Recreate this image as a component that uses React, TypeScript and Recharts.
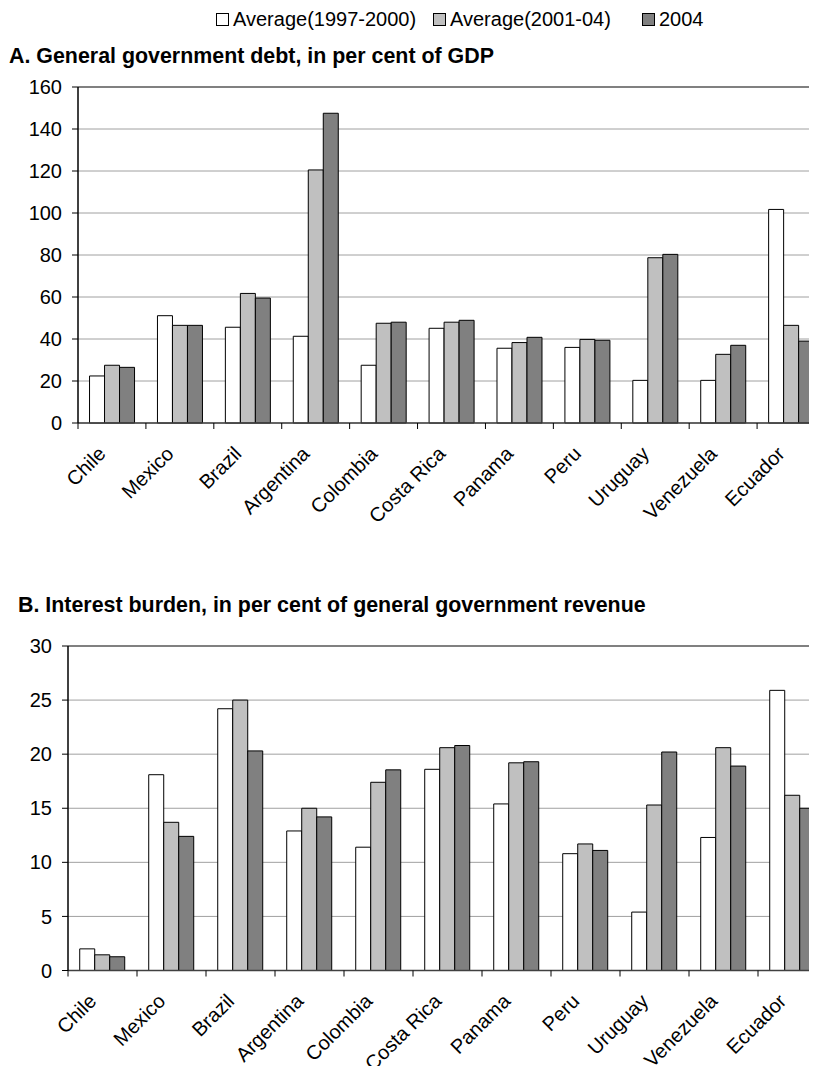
import React from "react";
import {
    BarChart,
    Bar,
    XAxis,
    YAxis,
    CartesianGrid,
    ReferenceLine,
} from "recharts";

const countries = [
    "Chile",
    "Mexico",
    "Brazil",
    "Argentina",
    "Colombia",
    "Costa Rica",
    "Panama",
    "Peru",
    "Uruguay",
    "Venezuela",
    "Ecuador",
];

const seriesNames = ["Average(1997-2000)", "Average(2001-04)", "2004"];
const seriesColors = ["#ffffff", "#c0c0c0", "#808080"];

// A. general government debt, % of GDP
const debtAvg9700 = [22.4, 51.1, 45.6, 41.3, 27.5, 45.1, 35.6, 36.0, 20.3, 20.3, 101.7];
const debtAvg0104 = [27.5, 46.5, 61.7, 120.5, 47.5, 48.0, 38.3, 39.8, 78.7, 32.7, 46.5];
const debt2004 = [26.5, 46.5, 59.5, 147.5, 48.0, 48.9, 40.8, 39.4, 80.3, 37.0, 39.0];
const debtTicks = [0, 20, 40, 60, 80, 100, 120, 140, 160];

// B. interest burden, % of general government revenue
const intAvg9700 = [2.0, 18.1, 24.2, 12.9, 11.4, 18.6, 15.4, 10.8, 5.4, 12.3, 25.9];
const intAvg0104 = [1.45, 13.7, 25.0, 15.0, 17.4, 20.6, 19.2, 11.7, 15.3, 20.6, 16.2];
const int2004 = [1.27, 12.4, 20.3, 14.2, 18.55, 20.8, 19.3, 11.1, 20.2, 18.9, 15.0];
const interestTicks = [0, 5, 10, 15, 20, 25, 30];

const font = "'Liberation Sans', Arial, Helvetica, sans-serif";

type Row = { name: string; a: number; b: number; c: number };

const toRows = (a: number[], b: number[], c: number[]): Row[] =>
    countries.map((name, i) => ({ name, a: a[i], b: b[i], c: c[i] }));

const debtRows = toRows(debtAvg9700, debtAvg0104, debt2004);
const interestRows = toRows(intAvg9700, intAvg0104, int2004);

function CountryTick(props: any) {
    const { x, y, payload, band } = props;
    const left = x - band / 2;
    const tx = x - 5;
    const ty = y + 32;
    return (
        <g>
            <line x1={left} x2={left} y1={y} y2={y + 6} stroke="#000" />
            <text
                x={tx}
                y={ty}
                transform={`rotate(-45 ${tx} ${ty})`}
                textAnchor="end"
                fontSize={20}
                fontFamily={font}
                fill="#000"
            >
                {payload.value}
            </text>
        </g>
    );
}

type PanelProps = {
    rows: Row[];
    ticks: number[];
    top: number;
    axisWidth: number;
    plotHeight: number;
    plotWidth: number;
};

function Panel({ rows, ticks, top, axisWidth, plotHeight, plotWidth }: PanelProps) {
    const band = plotWidth / rows.length;
    const marginTop = 25;
    const xAxisHeight = 140;
    const max = ticks[ticks.length - 1];

    return (
        <div style={{ position: "absolute", left: 0, top: top - marginTop }}>
            <BarChart
                width={axisWidth + plotWidth + 5}
                height={marginTop + plotHeight + xAxisHeight}
                data={rows}
                margin={{ top: marginTop, right: 5, bottom: 0, left: 0 }}
                barCategoryGap="17%"
                barGap={0}
            >
                <CartesianGrid vertical={false} stroke="#a0a0a0" />
                <XAxis
                    dataKey="name"
                    height={xAxisHeight}
                    interval={0}
                    tickLine={false}
                    tickSize={0}
                    tickMargin={0}
                    axisLine={{ stroke: "#404040", strokeWidth: 1.5 }}
                    tick={(p: any) => <CountryTick {...p} band={band} />}
                />
                <YAxis
                    width={axisWidth}
                    domain={[0, max]}
                    ticks={ticks}
                    interval={0}
                    tickSize={6}
                    tickMargin={10}
                    axisLine={{ stroke: "#000", strokeWidth: 1.5 }}
                    tickLine={{ stroke: "#000" }}
                    tick={{ fontSize: 20, fill: "#000", fontFamily: font }}
                />
                <ReferenceLine y={max} stroke="#808080" strokeWidth={2} />
                <Bar dataKey="a" name={seriesNames[0]} fill={seriesColors[0]} stroke="#000" isAnimationActive={false} />
                <Bar dataKey="b" name={seriesNames[1]} fill={seriesColors[1]} stroke="#000" isAnimationActive={false} />
                <Bar dataKey="c" name={seriesNames[2]} fill={seriesColors[2]} stroke="#000" isAnimationActive={false} />
            </BarChart>
        </div>
    );
}

// x position of each legend key
const legendLeft = [216, 433, 642];

function Legend() {
    return (
        <>
            {seriesNames.map((name, i) => (
                <div
                    key={name}
                    style={{
                        position: "absolute",
                        left: legendLeft[i],
                        top: 9,
                        display: "flex",
                        alignItems: "center",
                        fontFamily: font,
                        fontSize: 20,
                        lineHeight: "20px",
                        color: "#000",
                        whiteSpace: "nowrap",
                    }}
                >
                    <span
                        style={{
                            display: "inline-block",
                            width: 11,
                            height: 11,
                            border: "1px solid #000",
                            background: seriesColors[i],
                            marginRight: 4,
                        }}
                    />
                    {name}
                </div>
            ))}
        </>
    );
}

const titleStyle: React.CSSProperties = {
    position: "absolute",
    fontFamily: font,
    fontWeight: "bold",
    fontSize: 21.4,
    lineHeight: "20px",
    color: "#000",
    whiteSpace: "nowrap",
};

export default function App() {
    return (
        <div
            style={{
                position: "relative",
                margin: -8,
                width: 817,
                height: 1074,
                overflow: "hidden",
                background: "#fff",
            }}
        >
            <Legend />
            <div style={{ ...titleStyle, left: 9, top: 46 }}>
                A. General government debt, in per cent of GDP
            </div>
            <Panel
                rows={debtRows}
                ticks={debtTicks}
                top={87}
                axisWidth={78}
                plotHeight={336}
                plotWidth={747}
            />
            <div style={{ ...titleStyle, left: 18, top: 595 }}>
                B. Interest burden, in per cent of general government revenue
            </div>
            <Panel
                rows={interestRows}
                ticks={interestTicks}
                top={645.5}
                axisWidth={68}
                plotHeight={324.5}
                plotWidth={759}
            />
        </div>
    );
}
